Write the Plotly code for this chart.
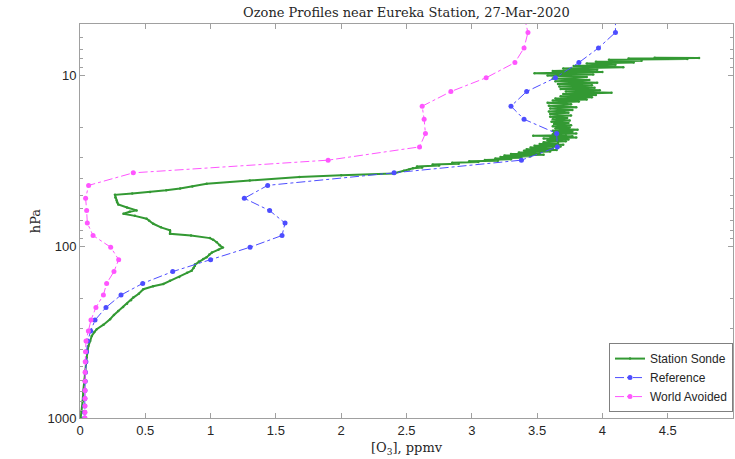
import plotly.graph_objects as go

# ---------------- data ----------------
# model levels (hPa) shared by Reference and World Avoided
model_p = [4.5, 5.6, 6.9, 8.4, 10.3, 12.4, 15.1, 18.0, 21.8, 26.1, 31.2, 37.0,
           43.8, 52.1, 61.5, 72.7, 85.9, 100.6, 118.9, 139.6, 163.6, 191.4,
           226, 268, 310, 355, 410, 470, 540, 610, 690, 770, 850, 925, 1000]
reference_o3 = [4.10, 4.10, 3.97, 3.82, 3.64, 3.42, 3.30, 3.40, 3.65, 3.655,
                3.38, 2.405, 1.437, 1.258, 1.452, 1.570, 1.547, 1.302, 1.0,
                0.71, 0.48, 0.314, 0.199, 0.115, 0.082, 0.059, 0.050, 0.045,
                0.042, 0.040, 0.038, 0.037, 0.036, 0.035, 0.035]
world_avoided_o3 = [3.40, 3.43, 3.40, 3.33, 3.11, 2.84, 2.62, 2.635, 2.645,
                    2.60, 1.90, 0.408, 0.066, 0.043, 0.051, 0.056, 0.10,
                    0.235, 0.296, 0.26, 0.204, 0.179, 0.122, 0.084, 0.064,
                    0.046, 0.042, 0.040, 0.039, 0.038, 0.038, 0.038, 0.038,
                    0.038, 0.038]

# station sonde (hPa, ppmv), surface upward
sonde_p = [1000, 914, 800, 697, 600, 532, 480, 444, 410, 380, 355, 332, 315,
           303, 285, 265, 250, 237, 225, 215, 205, 198, 188, 177, 170, 165,
           158, 150, 142, 138, 133, 129, 127, 122, 118, 115, 111, 108, 104,
           101, 98, 94, 91, 89, 86, 84, 82, 80, 77, 73.4, 70.5, 68.6, 66,
           64.1, 62.5, 61.3, 59, 56.6, 55, 53.6, 51.5, 49.7, 48.8, 47.9, 46.8,
           45.7, 44.5, 42.8, 41, 39.1, 38.2, 37.3, 36.0, 35.4,
           34.8, 34.4, 34.0, 33.5, 33.1, 32.7, 32.3, 32.0, 31.7, 31.4, 31.1,
           30.8, 30.5, 30.2, 29.9, 29.6, 29.3, 29.0, 28.7, 28.4, 28.1, 27.8,
           27.5, 27.2, 26.9, 26.6, 26.3, 26.0, 25.7, 25.4, 25.1, 24.8, 24.5,
           24.2, 23.9, 23.6, 23.3, 23.0, 22.8, 22.6, 22.5, 22.3, 22.0, 21.8,
           21.6, 21.3, 21.0, 20.7, 20.4, 20.1, 19.8, 19.5, 19.2, 18.9, 18.6,
           18.3, 18.0, 17.7, 17.4, 17.1, 16.8, 16.5, 16.2, 15.9, 15.6, 15.3,
           15.0, 14.7, 14.4, 14.2, 14.0, 13.8, 13.6, 13.4, 13.2, 13.0, 12.8,
           12.6, 12.4, 12.2, 12.0, 11.8, 11.6, 11.4, 11.2, 11.0, 10.8, 10.6,
           10.4, 10.2, 10.0, 9.85, 9.7, 9.55, 9.4, 9.25, 9.1, 8.95, 8.8, 8.65,
           8.5, 8.4, 8.3, 8.2, 8.1, 8.0, 7.95, 7.9, 7.88]
sonde_o3 = [0.005, 0.013, 0.020, 0.025, 0.032, 0.038, 0.045, 0.051, 0.058,
            0.064, 0.078, 0.090, 0.110, 0.128, 0.180, 0.230, 0.260, 0.293,
            0.330, 0.360, 0.390, 0.408, 0.450, 0.485, 0.560, 0.638, 0.689,
            0.760, 0.820, 0.855, 0.870, 0.880, 0.880, 0.910, 0.944, 0.970,
            0.990, 1.010, 1.060, 1.093, 1.070, 1.047, 1.020, 0.995, 0.850,
            0.689, 0.690, 0.689, 0.620, 0.561, 0.530, 0.510, 0.420, 0.332,
            0.380, 0.434, 0.360, 0.293, 0.285, 0.281, 0.270, 0.268, 0.400,
            0.536, 0.660, 0.766, 0.860, 0.970, 1.300, 1.680, 2.000, 2.400,
            2.480, 2.520,
            2.55, 2.62, 2.58, 2.75, 2.70, 2.90, 2.85, 3.05, 2.98, 3.20, 3.10,
            3.30, 3.18, 3.38, 3.22, 3.45, 3.25, 3.55, 3.30, 3.52, 3.36, 3.60,
            3.40, 3.65, 3.42, 3.62, 3.45, 3.68, 3.48, 3.70, 3.52, 3.66, 3.55,
            3.72, 3.58, 3.74, 3.55, 3.80, 3.60, 3.77, 3.47, 3.72, 3.62, 3.80,
            3.63, 3.77, 3.62, 3.81, 3.64, 3.75, 3.62, 3.76, 3.63, 3.74, 3.61,
            3.75, 3.62, 3.73, 3.60, 3.76, 3.60, 3.74, 3.59, 3.77, 3.60, 3.80,
            3.59, 3.76, 3.58, 3.82, 3.62, 3.88, 3.64, 3.92, 3.68, 3.95, 3.70,
            4.07, 3.72, 3.98, 3.68, 3.94, 3.67, 3.92, 3.66, 3.96, 3.64, 3.90,
            3.62, 3.88, 3.58, 3.93, 3.48, 4.00, 3.62, 3.96, 3.70, 4.16, 3.78,
            4.10, 3.88, 4.24, 3.95, 4.30, 4.05, 4.65, 4.20, 4.74, 4.40]

x_ticks = [0, 0.5, 1, 1.5, 2, 2.5, 3, 3.5, 4, 4.5, 5]
x_tick_labels = ["0", "0.5", "1", "1.5", "2", "2.5", "3", "3.5", "4", "4.5", "5"]
y_ticks = [10, 100, 1000]
y_tick_labels = ["10", "100", "1000"]
y_minor = [5, 6, 7, 8, 9, 20, 30, 40, 50, 60, 70, 80, 90,
           200, 300, 400, 500, 600, 700, 800, 900]

# ---------------- figure ----------------
GREEN = "#339933"
BLUE = "#4d4dff"
MAGENTA = "#ff55ff"
TXT = "#262626"
axis_col = "#a0a0a0"

fig = go.Figure()
fig.add_trace(go.Scatter(
    x=sonde_o3, y=sonde_p, name="Station Sonde", mode="lines+markers",
    line=dict(color=GREEN, width=2), marker=dict(color=GREEN, size=2.5)))
fig.add_trace(go.Scatter(
    x=reference_o3, y=model_p, name="Reference", mode="lines+markers",
    line=dict(color=BLUE, width=1, dash="dashdot"),
    marker=dict(color=BLUE, size=5, symbol="circle")))
fig.add_trace(go.Scatter(
    x=world_avoided_o3, y=model_p, name="World Avoided", mode="lines+markers",
    line=dict(color=MAGENTA, width=1, dash="dashdot"),
    marker=dict(color=MAGENTA, size=5, symbol="circle")))
# empty helper trace so the right-hand (mirror) axis with minor ticks is drawn
fig.add_trace(go.Scatter(x=[None], y=[None], yaxis="y2", showlegend=False,
                         hoverinfo="skip", mode="lines"))

fig.update_layout(
    width=735, height=459,
    margin=dict(l=80, r=2, t=24, b=41),
    paper_bgcolor="white", plot_bgcolor="white",
    font=dict(family="Liberation Sans, Arial, sans-serif", size=13, color=TXT),
    title=dict(text="Ozone Profiles near Eureka Station, 27-Mar-2020",
               x=0.553, xanchor="center", y=0.972, yanchor="middle",
               font=dict(family="DejaVu Serif, serif", size=13, color=TXT)),
    showlegend=True,
    legend=dict(x=1.0, xanchor="right", y=0.015, yanchor="bottom",
                bgcolor="white", bordercolor="#808080", borderwidth=1,
                font=dict(family="Liberation Sans, Arial, sans-serif", size=12, color=TXT),
                itemwidth=30, tracegroupgap=0),
    yaxis2=dict(type="log", range=[3, 0.69897], overlaying="y", side="right",
                showticklabels=False, tickvals=y_ticks, ticks="inside", ticklen=5,
                tickcolor=axis_col, showgrid=False, zeroline=False, showline=False,
                minor=dict(tickvals=y_minor, ticks="inside", ticklen=3,
                           tickcolor=axis_col, showgrid=False)),
)
fig.update_xaxes(
    range=[0, 5], tickvals=x_ticks, ticktext=x_tick_labels,
    ticks="inside", ticklen=5, tickcolor=axis_col, showgrid=False, zeroline=False,
    showline=True, linecolor=axis_col, linewidth=1, mirror="ticks",
    title=dict(text="[O<sub>3</sub>], ppmv", standoff=6,
               font=dict(family="DejaVu Serif, serif", size=13, color=TXT)),
)
fig.update_layout(yaxis=dict(
    type="log", range=[3, 0.69897], tickvals=y_ticks, ticktext=y_tick_labels,
    ticks="inside", ticklen=5, tickcolor=axis_col, showgrid=False, zeroline=False,
    showline=True, linecolor=axis_col, linewidth=1, mirror=True,
    minor=dict(tickvals=y_minor, ticks="inside", ticklen=3, tickcolor=axis_col, showgrid=False),
    title=dict(text="hPa", standoff=3,
               font=dict(family="DejaVu Serif, serif", size=13, color=TXT)),
))

fig.write_html("out.html")
